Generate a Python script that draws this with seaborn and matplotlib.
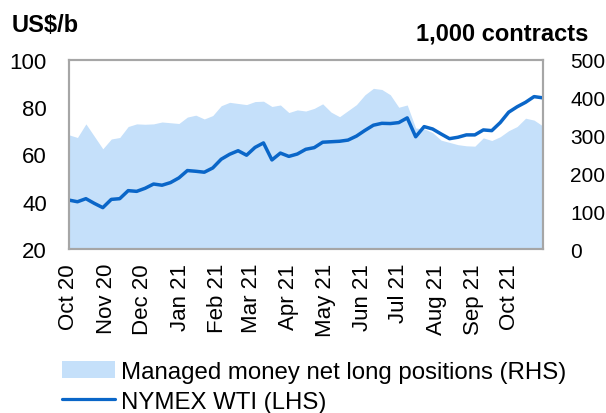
import numpy as np
import pandas as pd
import matplotlib
matplotlib.use("Agg")
import matplotlib.pyplot as plt
import matplotlib.dates as mdates
from matplotlib.patches import Patch
from matplotlib.lines import Line2D
import seaborn as sns

# ---- data (weekly) ----
start_date = "2020-10-06"
n_weeks = 57
dates = pd.date_range(start_date, periods=n_weeks, freq="7D")

wti = [40.7, 40.0, 41.3, 39.3, 37.5, 41.0, 41.3, 44.7, 44.4, 45.7,
       47.5, 47.0, 48.1, 50.1, 53.2, 52.9, 52.5, 54.3, 58.0, 60.1,
       61.6, 59.7, 63.0, 64.9, 57.7, 60.6, 59.2, 60.2, 62.2, 62.9,
       65.2, 65.4, 65.6, 66.1, 67.8, 70.2, 72.4, 73.2, 73.1, 73.5,
       75.5, 67.5, 71.8, 70.8, 68.7, 66.7, 67.3, 68.3, 68.3, 70.4,
       70.1, 73.5, 77.9, 80.2, 82.1, 84.5, 84.0]

net_long = [302, 295, 331, 298, 265, 291, 295, 324, 331, 330,
            331, 336, 334, 332, 349, 354, 344, 353, 379, 388,
            385, 382, 390, 391, 377, 381, 361, 368, 365, 372,
            384, 362, 350, 366, 382, 408, 425, 422, 408, 375,
            381, 320, 318, 308, 288, 282, 276, 273, 272, 294,
            287, 297, 313, 324, 346, 341, 326]

left_ticks = [20, 40, 60, 80, 100]
right_ticks = [0, 100, 200, 300, 400, 500]
left_title = "US$/b"
right_title = "1,000 contracts"
area_label = "Managed money net long positions (RHS)"
line_label = "NYMEX WTI (LHS)"

df = pd.DataFrame({"date": dates, "wti": wti, "net_long": net_long})

# ---- style ----
sns.set_theme(style="white")
plt.rcParams["font.family"] = ["Liberation Sans", "DejaVu Sans"]
plt.rcParams["text.color"] = "black"

AREA_C = "#C5E0FA"
LINE_C = "#0A66C8"
FRAME_C = "#A6A6A6"

fig = plt.figure(figsize=(6.06, 4.14), dpi=100)
ax1 = fig.add_axes([69/606, 1-250/414, (542.5-69)/606, (250-61)/414])
ax2 = ax1.twinx()

# area on right axis
ax2.fill_between(df["date"], df["net_long"], 0, color=AREA_C, linewidth=0)
ax2.set_ylim(0, 500)
ax2.set_yticks(right_ticks)

# line on left axis
sns.lineplot(data=df, x="date", y="wti", ax=ax1, color=LINE_C, linewidth=2.5)
ax1.set_ylim(20, 100)
ax1.set_yticks(left_ticks)
ax1.set_xlim(df["date"].iloc[0], df["date"].iloc[-1])
ax1.set_xlabel("")
ax1.set_ylabel("")
ax2.set_ylabel("")

ax1.set_zorder(ax2.get_zorder() + 1)
ax1.patch.set_visible(False)

ax1.xaxis.set_major_locator(mdates.MonthLocator(bymonthday=6))
ax1.xaxis.set_major_formatter(mdates.DateFormatter("%b %y"))
for lbl in ax1.get_xticklabels():
    lbl.set_rotation(90)

ax1.tick_params(axis="x", length=0, pad=10, labelsize=16, colors="black")
ax1.tick_params(axis="y", length=0, pad=16, labelsize=16, colors="black")
ax2.tick_params(axis="y", length=0, pad=20, labelsize=15, colors="black")

for ax in (ax1, ax2):
    for s in ax.spines.values():
        s.set_color(FRAME_C)
        s.set_linewidth(1.5)
    ax.grid(False)

fig.text(12/606, 1-25/414, left_title, fontsize=17, fontweight="bold",
         ha="left", va="center", color="black")
fig.text(588/606, 1-34/414, right_title, fontsize=17, fontweight="bold",
         ha="right", va="center", color="black")

handles = [Patch(facecolor=AREA_C, edgecolor="none"),
           Line2D([0], [0], color=LINE_C, linewidth=2.3)]
leg = fig.legend(handles, [area_label, line_label], loc="upper left",
                 bbox_to_anchor=(62/606, 1-362/414), frameon=False,
                 fontsize=17.3, handlelength=2.2, handletextpad=0.25,
                 labelspacing=0.32, borderpad=0, borderaxespad=0)
for t in leg.get_texts():
    t.set_color("black")

fig.savefig("out.png", dpi=100)
